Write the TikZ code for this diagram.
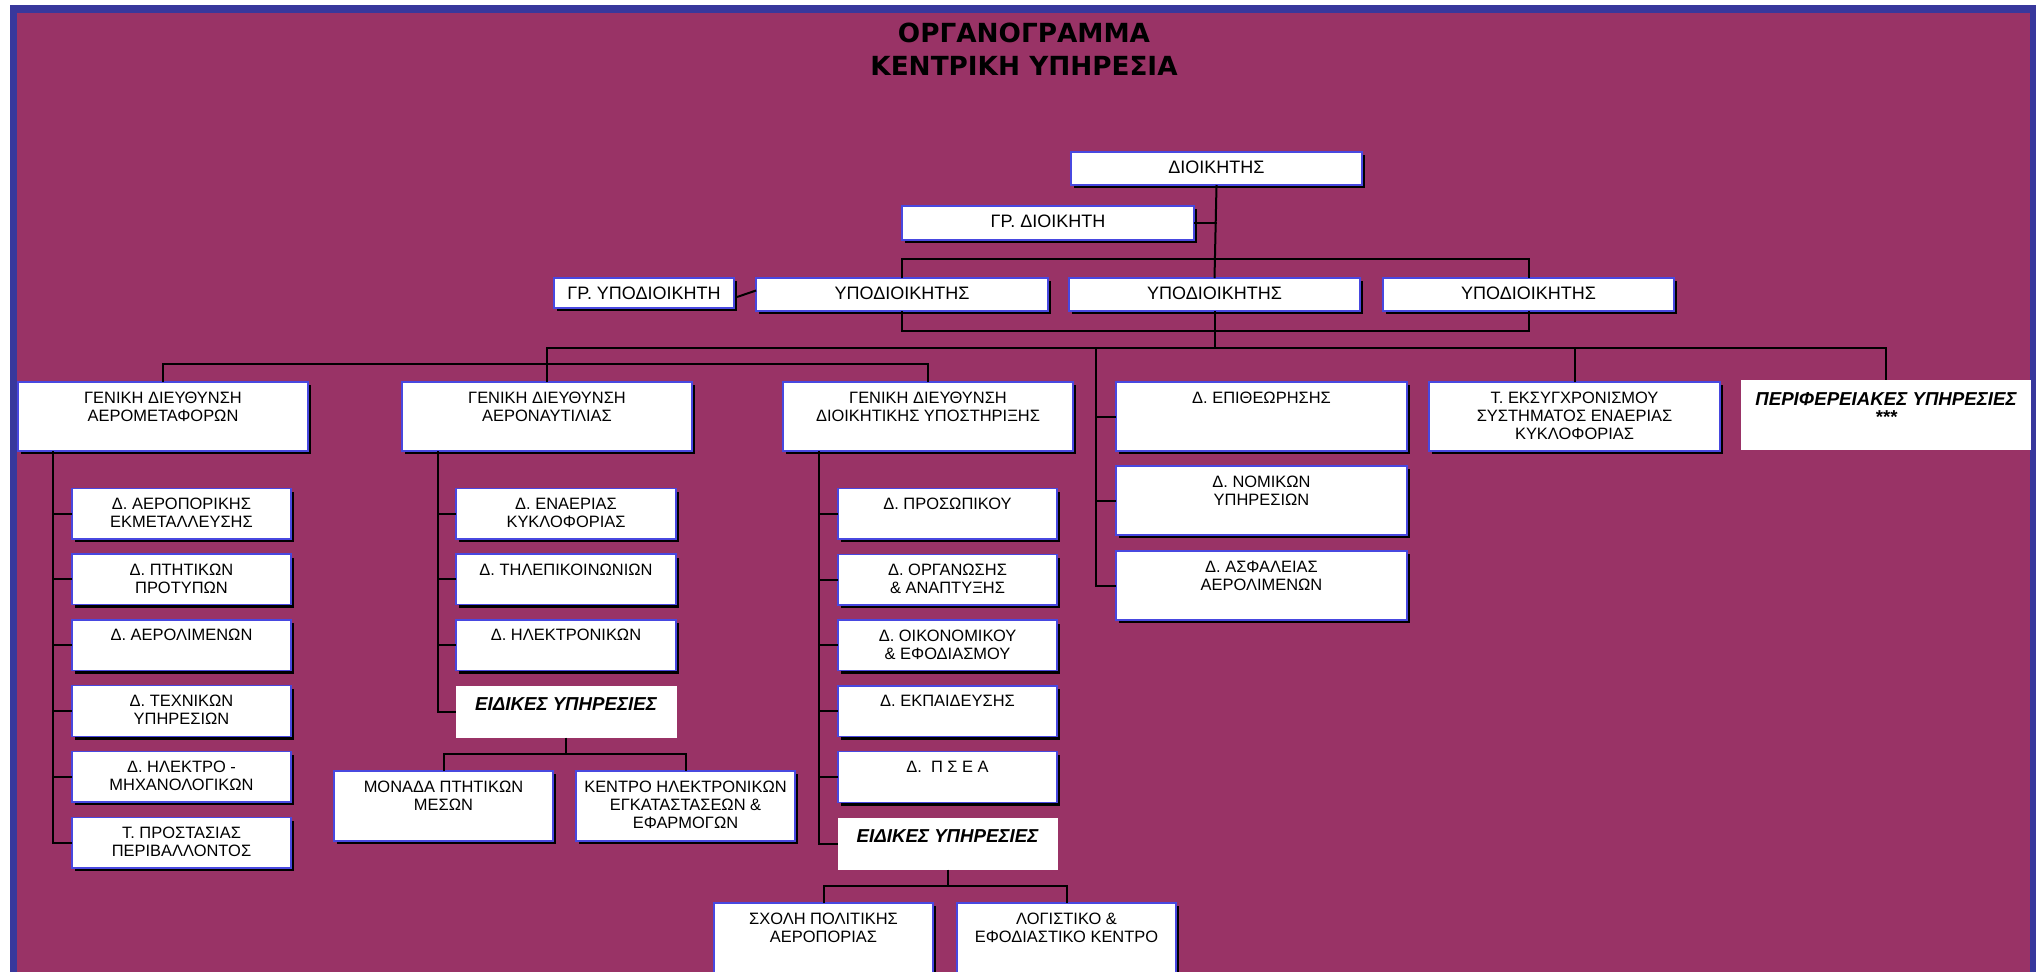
\documentclass[tikz,border=0pt]{standalone}
\usepackage{fontspec}
\setmainfont{Liberation Sans}
\newfontfamily\titlefont{DejaVu Sans}
\usetikzlibrary{positioning,shadows}
\newlength\pxl
\setlength\pxl{0.25mm}
\definecolor{plum}{RGB}{153,51,102}
\definecolor{frameblue}{RGB}{56,56,156}
\definecolor{boxblue}{RGB}{72,72,224}
\newcommand\orgtext[4][21]{\parbox[t][#3\pxl][t]{#2\pxl}{\centering\rule{0pt}{#1\pxl}#4\par}}

\begin{document}
\begin{tikzpicture}[x=0.25mm,y=-0.25mm,node distance=3.825mm]
		\tikzset{
			unit/.style={draw=boxblue,line width=0.35mm,fill=white,inner sep=0pt,outer sep=0pt,
				drop shadow={shadow xshift=0.85mm,shadow yshift=-0.85mm,fill=black,opacity=1},
				font=\fontsize{11.7}{13}\selectfont},
			chief/.style={unit,font=\fontsize{12.8}{14}\selectfont},
			special/.style={fill=white,inner sep=0pt,outer sep=0pt,
				font=\bfseries\itshape\fontsize{13.3}{13}\selectfont},
			link/.style={line width=0.5mm},
			heading/.style={font=\titlefont\bfseries\fontsize{18.7}{22}\selectfont,anchor=base}
		}
		\useasboundingbox (0,0) rectangle (2036,971);
		\fill[white] (0,0) rectangle (2036,971);
		\fill[frameblue] (10,5) rectangle (2036,975);
		\fill[plum] (17,13) rectangle (2030,975);
		\clip (0,0) rectangle (2036,971);
		\node[heading] (title1) at (1024,42) {ΟΡΓΑΝΟΓΡΑΜΜΑ};
		\node[heading] (title2) at (1024,75) {ΚΕΝΤΡΙΚΗ ΥΠΗΡΕΣΙΑ};
		\node[chief,anchor=north west] (dio) at (1071,152) {\orgtext{291}{33}{ΔΙΟΙΚΗΤΗΣ}};
		\node[chief,anchor=north west] (grd) at (902,206) {\orgtext{292}{34}{ΓΡ. ΔΙΟΙΚΗΤΗ}};
		\node[chief,anchor=north west] (gry) at (554,278) {\orgtext{180}{30}{ΓΡ. ΥΠΟΔΙΟΙΚΗΤΗ}};
		\node[chief,anchor=north west] (ypo1) at (756,278) {\orgtext{292}{33}{ΥΠΟΔΙΟΙΚΗΤΗΣ}};
		\node[chief,anchor=north west] (ypo2) at (1069,278) {\orgtext{291}{33}{ΥΠΟΔΙΟΙΚΗΤΗΣ}};
		\node[chief,anchor=north west] (ypo3) at (1383,278) {\orgtext{291}{33}{ΥΠΟΔΙΟΙΚΗΤΗΣ}};
		\node[unit,anchor=north west] (gdam) at (18,382) {\orgtext{290}{69}{ΓΕΝΙΚΗ ΔΙΕΥΘΥΝΣΗ\\ΑΕΡΟΜΕΤΑΦΟΡΩΝ}};
		\node[unit,anchor=north west] (gdan) at (402,382) {\orgtext{290}{69}{ΓΕΝΙΚΗ ΔΙΕΥΘΥΝΣΗ\\ΑΕΡΟΝΑΥΤΙΛΙΑΣ}};
		\node[unit,anchor=north west] (gdds) at (783,382) {\orgtext{290}{69}{ΓΕΝΙΚΗ ΔΙΕΥΘΥΝΣΗ\\ΔΙΟΙΚΗΤΙΚΗΣ ΥΠΟΣΤΗΡΙΞΗΣ}};
		\node[unit,anchor=north west] (depi) at (1116,382) {\orgtext{291}{69}{Δ. ΕΠΙΘΕΩΡΗΣΗΣ}};
		\node[unit,anchor=north west] (dnom) at (1116,466) {\orgtext{291}{69}{Δ. ΝΟΜΙΚΩΝ\\ΥΠΗΡΕΣΙΩΝ}};
		\node[unit,anchor=north west] (dasf) at (1116,551) {\orgtext{291}{69}{Δ. ΑΣΦΑΛΕΙΑΣ\\ΑΕΡΟΛΙΜΕΝΩΝ}};
		\node[unit,anchor=north west] (tesy) at (1429,382) {\orgtext{291}{69}{Τ. ΕΚΣΥΓΧΡΟΝΙΣΜΟΥ\\ΣΥΣΤΗΜΑΤΟΣ ΕΝΑΕΡΙΑΣ\\ΚΥΚΛΟΦΟΡΙΑΣ}};
		\node[special,anchor=north west] (peri) at (1741,380) {\orgtext[25]{290}{70}{ΠΕΡΙΦΕΡΕΙΑΚΕΣ ΥΠΗΡΕΣΙΕΣ\\****}};
		\node[unit,anchor=north west] (ld1) at (72,488.3) {\orgtext{219}{50.5}{Δ. ΑΕΡΟΠΟΡΙΚΗΣ\\ΕΚΜΕΤΑΛΛΕΥΣΗΣ}};
		\node[unit,below=of ld1] (ld2) {\orgtext{219}{50.5}{Δ. ΠΤΗΤΙΚΩΝ\\ΠΡΟΤΥΠΩΝ}};
		\node[unit,below=of ld2] (ld3) {\orgtext{219}{50.5}{Δ. ΑΕΡΟΛΙΜΕΝΩΝ}};
		\node[unit,below=of ld3] (ld4) {\orgtext{219}{50.5}{Δ. ΤΕΧΝΙΚΩΝ\\ΥΠΗΡΕΣΙΩΝ}};
		\node[unit,below=of ld4] (ld5) {\orgtext{219}{50.5}{Δ. ΗΛΕΚΤΡΟ -\\ΜΗΧΑΝΟΛΟΓΙΚΩΝ}};
		\node[unit,below=of ld5] (ld6) {\orgtext{219}{50.5}{Τ. ΠΡΟΣΤΑΣΙΑΣ\\ΠΕΡΙΒΑΛΛΟΝΤΟΣ}};
		\node[unit,anchor=north west] (md1) at (456,488.3) {\orgtext{220}{50.5}{Δ. ΕΝΑΕΡΙΑΣ\\ΚΥΚΛΟΦΟΡΙΑΣ}};
		\node[unit,below=of md1] (md2) {\orgtext{220}{50.5}{Δ. ΤΗΛΕΠΙΚΟΙΝΩΝΙΩΝ}};
		\node[unit,below=of md2] (md3) {\orgtext{220}{50.5}{Δ. ΗΛΕΚΤΡΟΝΙΚΩΝ}};
		\node[special,below=of md3] (eid1) {\orgtext[25]{221}{52}{ΕΙΔΙΚΕΣ ΥΠΗΡΕΣΙΕΣ}};
		\node[unit,anchor=north west] (mon) at (334,771) {\orgtext{219}{70}{ΜΟΝΑΔΑ ΠΤΗΤΙΚΩΝ\\ΜΕΣΩΝ}};
		\node[unit,anchor=north west] (ken) at (576,771) {\orgtext{219}{70}{ΚΕΝΤΡΟ ΗΛΕΚΤΡΟΝΙΚΩΝ\\ΕΓΚΑΤΑΣΤΑΣΕΩΝ \&\\ΕΦΑΡΜΟΓΩΝ}};
		\node[unit,anchor=north west] (rd1) at (838,488.5) {\orgtext{219}{50.5}{Δ. ΠΡΟΣΩΠΙΚΟΥ}};
		\node[unit,below=of rd1] (rd2) {\orgtext{219}{50.5}{Δ. ΟΡΓΑΝΩΣΗΣ\\\& ΑΝΑΠΤΥΞΗΣ}};
		\node[unit,below=of rd2] (rd3) {\orgtext{219}{50.5}{Δ. ΟΙΚΟΝΟΜΙΚΟΥ\\\& ΕΦΟΔΙΑΣΜΟΥ}};
		\node[unit,below=of rd3] (rd4) {\orgtext{219}{50.5}{Δ. ΕΚΠΑΙΔΕΥΣΗΣ}};
		\node[unit,below=of rd4] (rd5) {\orgtext{219}{50.5}{Δ.\ \ Π Σ Ε Α}};
		\node[special,below=of rd5] (eid2) {\orgtext[25]{220}{52}{ΕΙΔΙΚΕΣ ΥΠΗΡΕΣΙΕΣ}};
		\node[unit,anchor=north west] (sxo) at (714,903) {\orgtext{219}{70}{ΣΧΟΛΗ ΠΟΛΙΤΙΚΗΣ\\ΑΕΡΟΠΟΡΙΑΣ}};
		\node[unit,anchor=north west] (log) at (957,903) {\orgtext{219}{70}{ΛΟΓΙΣΤΙΚΟ \&\\ΕΦΟΔΙΑΣΤΙΚΟ ΚΕΝΤΡΟ}};
		\coordinate (bar1) at (0,259);
		\coordinate (bar2) at (0,331);
		\coordinate (bar3) at (0,348);
		\coordinate (bar4) at (0,364);
		\coordinate (bar5) at (0,754);
		\coordinate (bar6) at (0,885.5);
		\coordinate (lcol) at (53,0);
		\coordinate (mcol) at (437.5,0);
		\coordinate (rcol) at (818.5,0);
		\coordinate (dcol) at (1096,0);
		\draw[link] (dio.south) -- (ypo2.north);
		\draw[link] (grd.east) -- (grd.east -| dio.south);
		\draw[link] ([shift={(3,4)}]gry.east) -- ([yshift=1mm]ypo1.west);
		\draw[link] (ypo1.north) |- (bar1 -| ypo3) -- (ypo3.north);
		\draw[link] (ypo1.south) |- (bar2 -| ypo3) -- (ypo3.south);
		\draw[link] (ypo2.south) -- (bar3 -| ypo2);
		\draw[link] (gdan.north) |- (bar3 -| peri) -- (peri.north);
		\draw[link] (tesy.north) -- (tesy |- bar3);
		\draw[link] (gdam.north) |- (bar4 -| gdds) -- (gdds.north);
		\draw[link] (bar3 -| dcol) |- (dasf.west) (dcol |- depi) -- (depi.west) (dcol |- dnom) -- (dnom.west);
		\draw[link] (lcol |- gdam.south) |- (ld6.west) (lcol |- ld1) -- (ld1.west) (lcol |- ld2) -- (ld2.west)
			(lcol |- ld3) -- (ld3.west) (lcol |- ld4) -- (ld4.west) (lcol |- ld5) -- (ld5.west);
		\draw[link] (mcol |- gdan.south) |- (eid1.west) (mcol |- md1) -- (md1.west) (mcol |- md2) -- (md2.west)
			(mcol |- md3) -- (md3.west);
		\draw[link] (rcol |- gdds.south) |- (eid2.west) (rcol |- rd1) -- (rd1.west) (rcol |- rd2) -- (rd2.west)
			(rcol |- rd3) -- (rd3.west) (rcol |- rd4) -- (rd4.west) (rcol |- rd5) -- (rd5.west);
		\draw[link] (eid1.south) -- (eid1 |- bar5);
		\draw[link] (mon.north) |- (bar5 -| ken) -- (ken.north);
		\draw[link] (eid2.south) -- (eid2 |- bar6);
		\draw[link] (sxo.north) |- (bar6 -| log) -- (log.north);
\end{tikzpicture}
\end{document}
